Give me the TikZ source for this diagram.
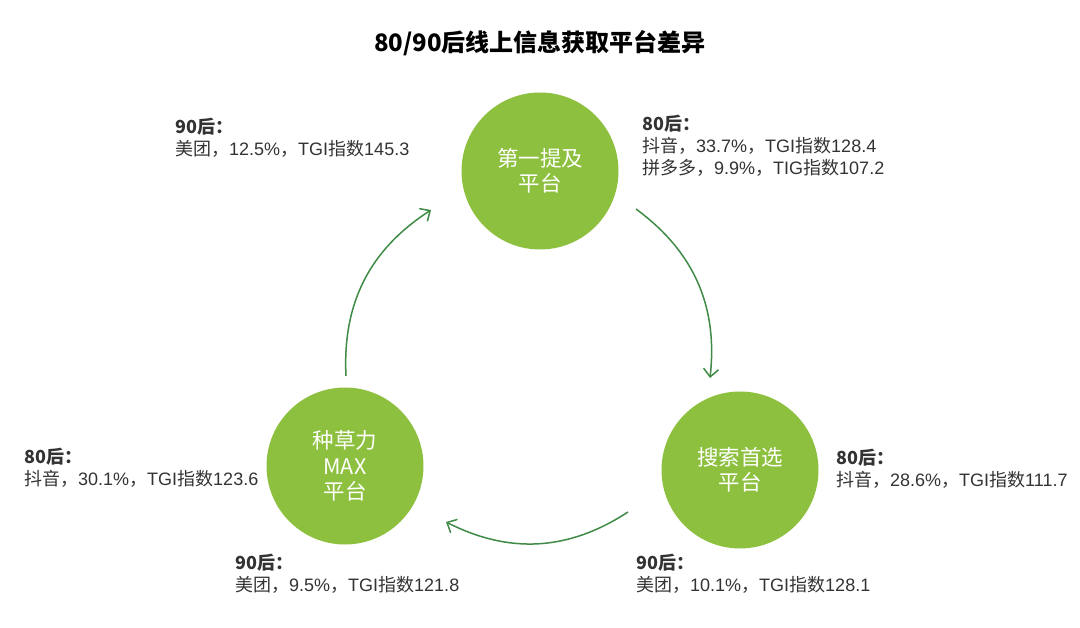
\documentclass[tikz,border=0pt]{standalone}
\usepackage{fontspec}
\setmainfont{Noto Sans CJK SC}
\newfontfamily\lat{Liberation Sans}
\usetikzlibrary{arrows.meta}
\definecolor{leaf}{HTML}{8DC03F}
\definecolor{arrowgreen}{HTML}{3F8B45}
\definecolor{txt}{HTML}{333333}
\newcommand{\lt}[1]{{\lat #1}}
\begin{document}
\begin{tikzpicture}[x=1pt,y=-1pt,
  plat/.style={circle,fill=leaf,minimum size=157pt,inner sep=0pt,text=white,align=center,font=\fontsize{21.5}{25.5}\selectfont},
  info/.style={anchor=north west,align=left,text=txt,inner sep=0pt,font=\fontsize{18}{22}\selectfont},
  flow/.style={draw=arrowgreen,line width=1.5pt,-{Straight Barb[length=8pt,width=15pt,line width=1.5pt]}},
  ttl/.style={font=\fontsize{24}{28}\selectfont\bfseries,text=black}]
\useasboundingbox (0,0) rectangle (1080,628);
\node[ttl] (title) at (540,43) {80/90后线上信息获取平台差异};
\node[plat] (top) at (540,171) {第一提及\\平台};
\node[plat] (left) at (345,466) {种草力\\MAX\\平台};
\node[plat] (right) at (740,470) {搜索首选\\平台};
\coordinate (a1s) at (636,209);
\coordinate (a1e) at (710,378);
\coordinate (a2s) at (628,512);
\coordinate (a2e) at (446,522);
\coordinate (a3s) at (346,376);
\coordinate (a3e) at (431,210);
\draw[flow] (a1s) to[bend left=30] (a1e);
\draw[flow] (a2s) to[bend left=30] (a2e);
\draw[flow] (a3s) to[bend left=30] (a3e);
\node[info] (tl) at (175,118) {\textbf{90后：}\\美团，\lt{12.5\%}，\lt{TGI}指数\lt{145.3}};
\node[info] (tr) at (642,115) {\textbf{80后：}\\抖音，\lt{33.7\%}，\lt{TGI}指数\lt{128.4}\\拼多多，\lt{9.9\%}，\lt{TIG}指数\lt{107.2}};
\node[info] (lf) at (24,448) {\textbf{80后：}\\抖音，\lt{30.1\%}，\lt{TGI}指数\lt{123.6}};
\node[info] (bl) at (235,554) {\textbf{90后：}\\美团，\lt{9.5\%}，\lt{TGI}指数\lt{121.8}};
\node[info] (br) at (636,554) {\textbf{90后：}\\美团，\lt{10.1\%}，\lt{TGI}指数\lt{128.1}};
\node[info] (rt) at (836,449) {\textbf{80后：}\\抖音，\lt{28.6\%}，\lt{TGI}指数\lt{111.7}};
\end{tikzpicture}
\end{document}
